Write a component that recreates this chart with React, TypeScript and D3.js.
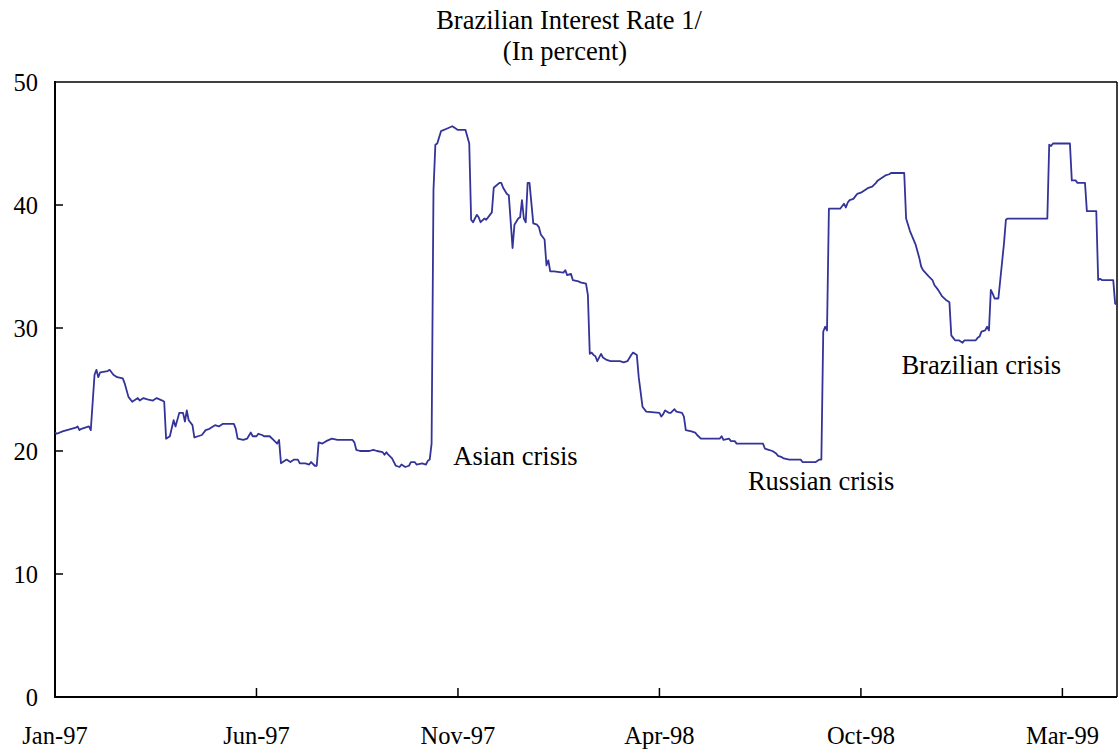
import React from "react";
import * as d3 from "d3";

// Business-day observation index (x) and the interest rate in percent (y)
const obs: number[] = [
  0, 1, 4, 11, 12, 13, 14, 18, 19, 21, 22, 23, 24, 28, 29, 31, 33, 36, 37, 39,
  41, 42, 44, 45, 47, 49, 52, 54, 57, 58, 59, 61, 63, 64, 66, 68, 69, 70, 71, 73,
  74, 76, 78, 80, 82, 85, 87, 89, 95, 96, 97, 100, 102, 104, 105, 107, 108, 110, 111, 114,
  116, 118, 119, 120, 121, 123, 125, 127, 129, 130, 133, 135, 136, 138, 139, 140, 142, 144, 147, 150,
  151, 158, 159, 160, 162, 167, 169, 171, 174, 175, 176, 177, 179, 180, 181, 183, 184, 186, 188, 189,
  191, 192, 195, 197, 198, 199, 200, 201, 202, 203, 205, 208, 211, 213, 214, 218, 220, 221, 222, 224,
  225, 226, 228, 229, 231, 232, 233, 236, 237, 238, 240, 241, 243, 244, 246, 247, 248, 249, 250, 251,
  252, 254, 256, 257, 258, 260, 261, 262, 263, 265, 270, 271, 272, 274, 275, 278, 279, 282, 283, 284,
  285, 286, 287, 288, 290, 291, 293, 295, 300, 302, 304, 306, 307, 309, 310, 312, 314, 321, 322, 323,
  324, 326, 327, 329, 330, 333, 334, 335, 338, 340, 341, 343, 353, 354, 355, 358, 359, 361, 362, 376,
  377, 379, 381, 383, 384, 386, 387, 390, 396, 397, 404, 406, 407, 408, 409, 410, 411, 417, 418, 419,
  420, 421, 422, 424, 425, 426, 428, 430, 431, 432, 434, 436, 437, 439, 441, 443, 444, 451, 452, 454,
  457, 459, 460, 461, 464, 466, 467, 469, 471, 473, 475, 476, 477, 478, 480, 482, 483, 489, 490, 491,
  492, 494, 495, 496, 497, 498, 499, 501, 504, 505, 506, 527, 528, 529, 530, 539, 540, 542, 543, 547,
  548, 553, 554, 555, 556, 562, 563, 564,
];

const rate: number[] = [
  21.5, 21.4, 21.6, 21.9, 22.0, 21.7, 21.8, 22.0, 21.7, 26.2, 26.6, 26.0, 26.4, 26.5, 26.6, 26.2, 26.0, 25.9, 25.5, 24.4,
  24.0, 24.1, 24.3, 24.1, 24.3, 24.2, 24.1, 24.3, 24.1, 24.0, 21.0, 21.2, 22.5, 22.0, 23.1, 23.1, 22.4, 23.3, 22.5, 22.1,
  21.1, 21.2, 21.3, 21.7, 21.8, 22.1, 22.0, 22.2, 22.2, 21.8, 21.0, 20.9, 21.0, 21.5, 21.2, 21.2, 21.4, 21.3, 21.2, 21.2,
  20.9, 20.6, 20.9, 19.0, 19.1, 19.3, 19.1, 19.3, 19.3, 19.0, 19.0, 18.9, 19.1, 18.8, 18.8, 20.7, 20.6, 20.8, 21.0, 20.9,
  20.9, 20.9, 20.7, 20.1, 20.0, 20.0, 20.1, 20.0, 19.9, 19.7, 19.9, 19.7, 19.4, 19.1, 18.8, 18.7, 18.9, 18.7, 18.8, 19.1,
  19.1, 18.9, 19.0, 18.9, 19.2, 19.3, 20.6, 41.2, 44.9, 45.0, 46.0, 46.2, 46.4, 46.2, 46.1, 46.1, 45.0, 38.8, 38.6, 39.2,
  39.0, 38.6, 38.9, 38.8, 39.2, 39.4, 41.4, 41.8, 41.8, 41.4, 40.9, 40.8, 36.5, 38.4, 38.9, 39.0, 40.4, 38.9, 38.6, 41.8,
  41.8, 38.5, 38.4, 38.2, 37.6, 37.2, 35.1, 35.5, 34.6, 34.6, 34.5, 34.7, 34.3, 34.4, 33.9, 33.8, 33.7, 33.6, 32.7, 27.9,
  28.0, 27.8, 27.7, 27.3, 27.9, 27.6, 27.4, 27.3, 27.3, 27.2, 27.3, 27.8, 28.0, 27.8, 26.0, 23.6, 23.2, 23.1, 22.8, 23.0,
  23.3, 23.1, 23.1, 23.4, 23.2, 23.1, 22.8, 21.7, 21.6, 21.5, 21.3, 21.0, 21.0, 21.2, 20.9, 21.0, 20.8, 20.8, 20.6, 20.6,
  20.2, 20.1, 20.0, 19.8, 19.6, 19.5, 19.4, 19.3, 19.3, 19.1, 19.1, 19.3, 19.3, 29.7, 30.1, 29.8, 39.7, 39.7, 39.9, 40.1,
  39.8, 40.2, 40.4, 40.5, 40.7, 40.9, 41.0, 41.2, 41.3, 41.4, 41.5, 41.8, 42.0, 42.2, 42.4, 42.5, 42.6, 42.6, 38.9, 37.9,
  36.8, 35.7, 35.0, 34.7, 34.2, 33.9, 33.5, 33.1, 32.6, 32.3, 32.1, 29.4, 29.2, 29.0, 29.0, 28.8, 29.0, 29.0, 29.2, 29.3,
  29.7, 29.8, 30.1, 29.8, 33.1, 32.8, 32.4, 32.4, 36.9, 38.8, 38.9, 38.9, 44.9, 44.8, 45.0, 45.0, 42.0, 42.0, 41.8, 41.8,
  39.5, 39.5, 33.9, 34.0, 33.9, 33.9, 32.0, 31.9,
];

const xTickObs: number[] = [0, 107, 214, 321, 428, 535];
const xTickLabels: string[] = ["Jan-97", "Jun-97", "Nov-97", "Apr-98", "Oct-98", "Mar-99"];
const yTicks: number[] = [0, 10, 20, 30, 40, 50];

const noteLabels: string[] = ["Asian crisis", "Russian crisis", "Brazilian crisis"];
const noteObs: number[] = [211.5, 368, 449.5];
const noteRate: number[] = [18.9, 16.8, 26.3];

const titleLines: string[] = ["Brazilian Interest Rate 1/", "(In percent)"];

const W = 1119;
const H = 753;
const M = { left: 55, right: 2, top: 82, bottom: 56 };
const FONT = "'Liberation Serif', 'Times New Roman', serif";
const LINE = "#333399";

export default function App() {
  const x = d3.scaleLinear().domain([0, 564]).range([M.left, W - M.right]);
  const y = d3.scaleLinear().domain([0, 50]).range([H - M.bottom, M.top]);
  const pts: [number, number][] = obs.map((o, i) => [o, rate[i]]);
  const line = d3
    .line<[number, number]>()
    .x((d) => x(d[0]))
    .y((d) => y(d[1]));

  const x0 = x(0);
  const x1 = x(564);
  const y0 = y(0);
  const y1 = y(50);

  return (
    <svg
      width={W}
      height={H}
      style={{ position: "absolute", left: 0, top: 0, background: "#fff" }}
      fontFamily={FONT}
    >
      <text x={569} y={29} textAnchor="middle" fontSize={26.5}>
        {titleLines[0]}
      </text>
      <text x={565} y={60} textAnchor="middle" fontSize={26.5}>
        {titleLines[1]}
      </text>

      {/* frame */}
      <line x1={x0} x2={x1} y1={y1} y2={y1} stroke="#000" strokeWidth={1.5} />
      <line x1={x1} x2={x1} y1={y1} y2={y0} stroke="#000" strokeWidth={1.5} />
      <line x1={x0} x2={x0} y1={y1 - 1} y2={y0 + 1} stroke="#000" strokeWidth={2} />
      <line x1={x0 - 1} x2={x1} y1={y0} y2={y0} stroke="#000" strokeWidth={2} />

      {/* y ticks */}
      {yTicks.map((t) => (
        <g key={"y" + t}>
          {t > 0 && t < 50 ? (
            <line x1={x0} x2={x0 + 8} y1={y(t)} y2={y(t)} stroke="#000" strokeWidth={1.5} />
          ) : null}
          <text x={38} y={y(t)} dy="0.35em" textAnchor="end" fontSize={24.5}>
            {t}
          </text>
        </g>
      ))}

      {/* x ticks */}
      {xTickObs.map((o, i) => (
        <g key={"x" + o}>
          {i > 0 ? (
            <line x1={x(o)} x2={x(o)} y1={y0} y2={y0 - 9} stroke="#000" strokeWidth={1.5} />
          ) : null}
          <text x={x(o)} y={744} textAnchor="middle" fontSize={24.5}>
            {xTickLabels[i]}
          </text>
        </g>
      ))}

      <path d={line(pts) || ""} fill="none" stroke={LINE} strokeWidth={1.8} strokeLinejoin="round" />

      {noteLabels.map((n, i) => (
        <text key={n} x={x(noteObs[i])} y={y(noteRate[i])} fontSize={26.5}>
          {n}
        </text>
      ))}
    </svg>
  );
}
